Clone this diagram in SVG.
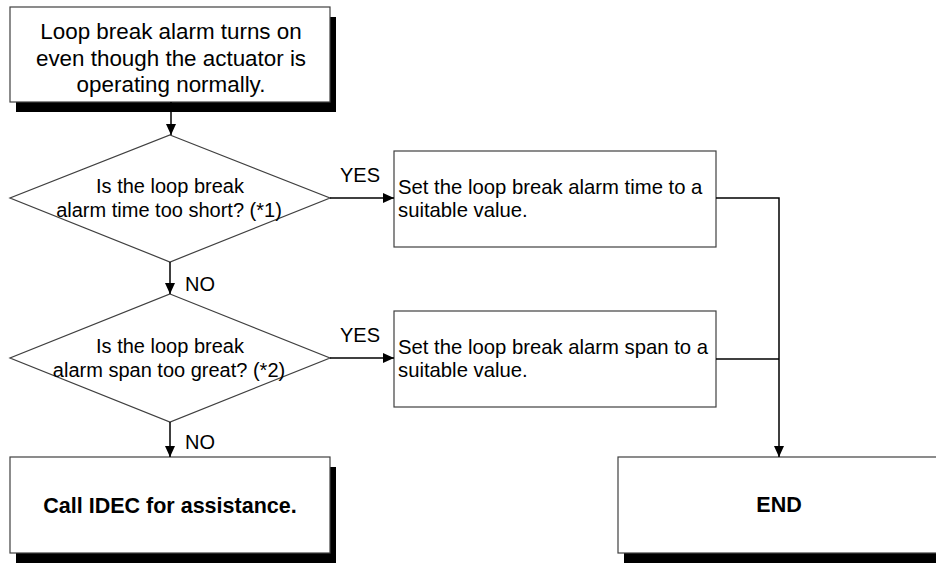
<svg xmlns="http://www.w3.org/2000/svg" width="936" height="563" viewBox="0 0 936 563">
<style>
.box{fill:#fff;stroke:#404040;stroke-width:1.2}
.shadow{fill:#000}
.conn{fill:none;stroke:#000;stroke-width:1.5}
.t{font-family:"Liberation Sans",Arial,sans-serif;fill:#000}
.big{font-size:22.4px}
.mid{font-size:20px}
.txt{font-size:20.3px}
.bold{font-size:21.5px;font-weight:bold}
</style>
<defs>
<marker id="arr" markerUnits="userSpaceOnUse" markerWidth="12" markerHeight="10" refX="11" refY="5" orient="auto">
<path d="M0,0 L11,5 L0,10 Z" fill="#000"/>
</marker>
</defs>
<rect width="936" height="563" fill="#fff"/>
<g id="start">
<rect class="shadow" x="16" y="17" width="320" height="95"/>
<rect class="box" x="10" y="7" width="320" height="95"/>
<text class="t big" text-anchor="middle" x="171" y="39">Loop break alarm turns on</text>
<text class="t big" text-anchor="middle" x="171" y="66">even though the actuator is</text>
<text class="t big" text-anchor="middle" x="171" y="92">operating normally.</text>
</g>
<g id="decision1">
<polygon class="box" points="170,135 330,198 170,262 10,198"/>
<text class="t mid" text-anchor="middle" x="170" y="193">Is the loop break</text>
<text class="t mid" text-anchor="middle" x="169" y="217">alarm time too short? (*1)</text>
</g>
<g id="action1">
<rect class="box" x="394" y="151" width="322" height="96"/>
<text class="t txt" x="398" y="194">Set the loop break alarm time to a</text>
<text class="t txt" x="398" y="217">suitable value.</text>
</g>
<g id="decision2">
<polygon class="box" points="170,294 330,358 170,422 10,358"/>
<text class="t mid" text-anchor="middle" x="170" y="353">Is the loop break</text>
<text class="t mid" text-anchor="middle" x="169" y="377">alarm span too great? (*2)</text>
</g>
<g id="action2">
<rect class="box" x="394" y="311" width="322" height="96"/>
<text class="t txt" x="398" y="354">Set the loop break alarm span to a</text>
<text class="t txt" x="398" y="377">suitable value.</text>
</g>
<g id="call">
<rect class="shadow" x="16" y="467" width="320" height="96"/>
<rect class="box" x="10" y="457" width="320" height="96"/>
<text class="t bold" text-anchor="middle" x="170" y="513">Call IDEC for assistance.</text>
</g>
<g id="end">
<rect class="shadow" x="624" y="467" width="330" height="96"/>
<rect class="box" x="618" y="457" width="330" height="96"/>
<text class="t bold" text-anchor="middle" x="779" y="512">END</text>
</g>
<g id="connectors">
<line class="conn" x1="171" y1="102" x2="171" y2="135" marker-end="url(#arr)"/>
<line class="conn" x1="330" y1="198" x2="394" y2="198" marker-end="url(#arr)"/>
<line class="conn" x1="170" y1="262" x2="170" y2="294" marker-end="url(#arr)"/>
<line class="conn" x1="330" y1="358" x2="394" y2="358" marker-end="url(#arr)"/>
<line class="conn" x1="170" y1="422" x2="170" y2="457" marker-end="url(#arr)"/>
<polyline class="conn" points="716,198 779,198 779,457" marker-end="url(#arr)"/>
<line class="conn" x1="716" y1="359" x2="779" y2="359"/>
<text class="t mid" x="340" y="182">YES</text>
<text class="t mid" x="340" y="342">YES</text>
<text class="t mid" x="185" y="291">NO</text>
<text class="t mid" x="185" y="449">NO</text>
</g>
</svg>
